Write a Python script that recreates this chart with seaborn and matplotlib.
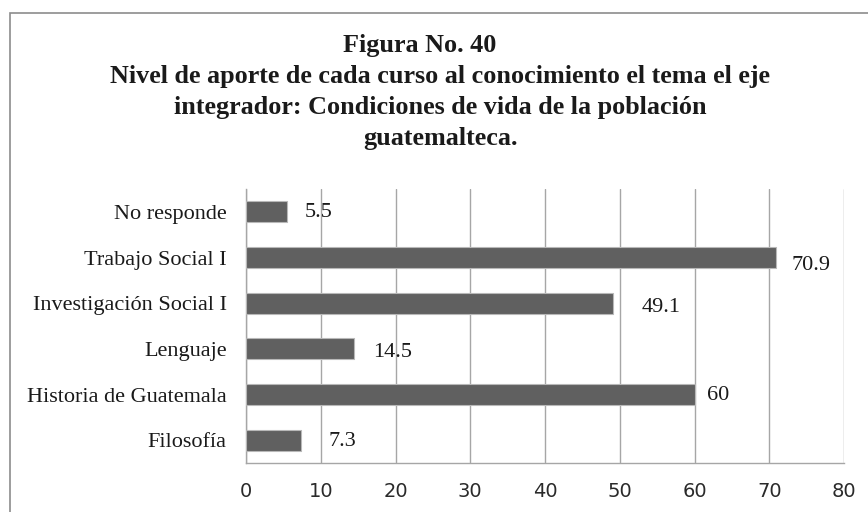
import matplotlib
matplotlib.use("Agg")
import matplotlib.pyplot as plt
import matplotlib.patches as mpatches
import numpy as np
import pandas as pd
import seaborn as sns

# Courses (top to bottom) and percentage of contribution
cursos = ["No responde", "Trabajo Social I", "Investigación Social I",
          "Lenguaje", "Historia de Guatemala", "Filosofía"]
porcentajes = [5.5, 70.9, 49.1, 14.5, 60, 7.3]
etiquetas = ["5.5", "70.9", "49.1", "14.5", "60", "7.3"]
x_ticks = [0, 10, 20, 30, 40, 50, 60, 70, 80]

titulo = ["Figura No. 40",
          "Nivel de aporte de cada curso al conocimiento el tema el eje",
          "integrador: Condiciones de vida de la población",
          "guatemalteca."]

# label nudges in pixels (dx, dy)
label_dx = [18, 16, 29, 19, 13, 28]
label_dy = [-1, -8, -4, -4, -1, -1]

sns.set_theme(style="white")
plt.rcParams["font.family"] = ["Liberation Serif", "DejaVu Serif"]

W, H = 868, 512
fig = plt.figure(figsize=(W / 100, H / 100), dpi=100)
fig.patch.set_facecolor("white")

# frame around the chart area
frame = mpatches.Rectangle((10 / W, -0.1), 1.0, (H - 13) / H + 0.1,
                           transform=fig.transFigure, fill=False,
                           edgecolor="#8c8c8c", linewidth=1.2)
fig.patches.append(frame)

# title lines
title_x = [420, 440, 440, 440]
title_base = [52, 83, 114, 145]
for txt, tx, ty in zip(titulo, title_x, title_base):
    fig.text(tx / W, 1 - ty / H, txt, ha="center", va="baseline",
             fontsize=18.8, fontweight="bold", color="#1a1a1a")

ax = fig.add_axes([246 / W, 49 / H, 598 / W, 274 / H])
df = pd.DataFrame({"curso": cursos, "valor": porcentajes})
sns.barplot(data=df, x="valor", y="curso", order=cursos, orient="h",
            color="#606060", saturation=1, width=0.46,
            edgecolor="#b8b8b8", linewidth=0.8, ax=ax, zorder=3)

ax.set_xlim(0, 80)
ax.set_ylim(len(cursos) - 0.5, -0.5)
ax.set_xticks(x_ticks)
ax.set_xticklabels([str(t) for t in x_ticks], family="DejaVu Sans",
                   fontsize=14, color="#2a2a2a")
ax.set_xlabel("")
ax.set_ylabel("")

ax.grid(axis="x", color="#a6a6a6", linewidth=1.0, zorder=0)
ax.grid(axis="y", visible=False)
ax.set_axisbelow(True)

for side in ["top", "right"]:
    ax.spines[side].set_visible(False)
for side in ["left", "bottom"]:
    ax.spines[side].set_color("#a6a6a6")
    ax.spines[side].set_linewidth(1.0)

# category labels with ticks at category boundaries
ax.set_yticks(range(len(cursos)))
ax.set_yticklabels(cursos, fontsize=16, color="#1a1a1a")
ax.tick_params(axis="y", length=0, pad=14)
ax.set_yticks(np.arange(-0.5, len(cursos), 1.0), minor=True)
ax.tick_params(axis="y", which="minor", length=7, color="#a6a6a6",
               direction="out", width=1.0)
ax.tick_params(axis="x", length=5, color="#a6a6a6", direction="out",
               width=1.0, pad=9)

for i, (v, lab) in enumerate(zip(porcentajes, etiquetas)):
    ax.annotate(lab, xy=(v, i), xytext=(label_dx[i], label_dy[i]),
                textcoords="offset pixels", ha="left", va="center",
                fontsize=16, color="#1a1a1a")

fig.savefig("out.png", dpi=100, facecolor="white")
